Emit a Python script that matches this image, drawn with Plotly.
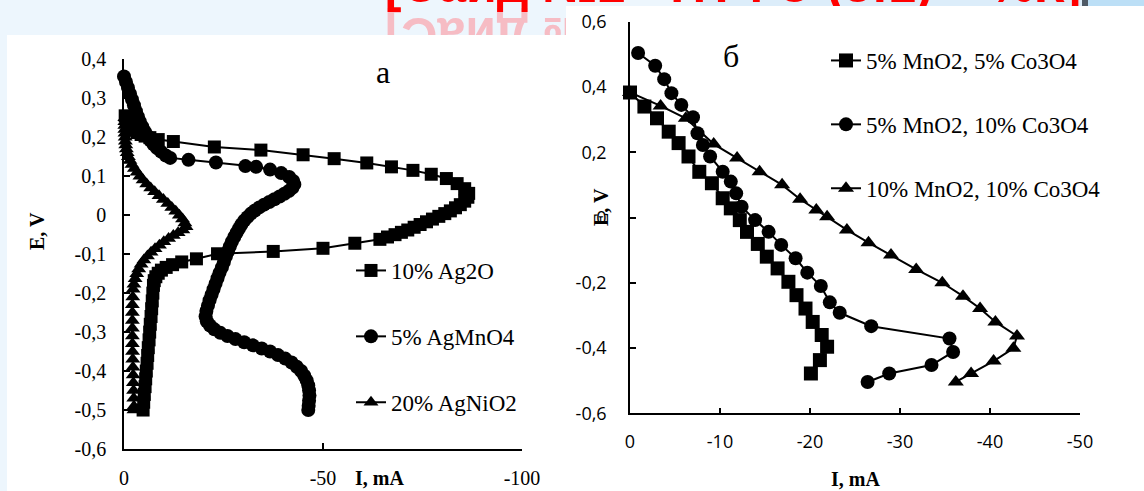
import plotly.graph_objects as go

W, H = 1144, 491

# ---------------- panel "a" data (I, mA ; E, V) ----------------
ag2o_I = [-0.3, -0.6, -1.0, -1.6, -2.4, -3.3, -4.3, -5.3, -6.5, -8.6, -12.4, -22.7, -34.4, -45.0,
          -52.8, -61.0, -67.2, -72.6, -77.2, -81.0, -83.7, -85.6, -86.6, -86.4, -85.6, -84.5, -83.3,
          -82.0, -80.6, -79.1, -77.5, -76.0, -74.4, -72.9, -71.3, -69.7, -68.1, -66.2, -64.3, -58.0,
          -50.0, -37.5, -23.5, -18.2, -14.5, -12.2, -10.6, -9.4, -8.6, -8.0, -7.6, -7.4, -7.25, -7.1,
          -6.95, -6.8, -6.6, -6.45, -6.3, -6.1, -5.95, -5.8, -5.6, -5.45, -5.3, -5.1, -4.95, -4.8]
ag2o_E = [0.255, 0.245, 0.235, 0.226, 0.218, 0.212, 0.207, 0.203, 0.199, 0.194, 0.189, 0.175, 0.167, 0.155,
          0.145, 0.134, 0.124, 0.115, 0.105, 0.094, 0.081, 0.068, 0.056, 0.046, 0.036, 0.027, 0.019,
          0.011, 0.004, -0.003, -0.010, -0.017, -0.024, -0.031, -0.038, -0.044, -0.050, -0.056, -0.062, -0.072,
          -0.085, -0.093, -0.099, -0.112, -0.120, -0.127, -0.134, -0.141, -0.149, -0.158, -0.168, -0.180, -0.200, -0.220,
          -0.240, -0.260, -0.280, -0.300, -0.320, -0.340, -0.360, -0.380, -0.400, -0.420, -0.440, -0.460, -0.480, -0.500]

agmno4_I = [0.0, -0.5, -1.0, -1.5, -2.0, -2.5, -3.0, -3.5, -4.0, -4.6, -5.2, -5.9, -6.6, -7.4, -8.3, -9.3,
            -10.5, -11.6, -16.2, -23.1, -30.5, -33.2, -36.7, -39.5, -41.5, -42.5, -42.8, -42.3, -41.4,
            -40.3, -39.1, -37.8, -36.5, -35.2, -34.0, -32.9, -31.9, -31.0, -30.2, -29.5, -28.9, -28.3,
            -27.7, -27.1, -26.6, -26.1, -25.6, -25.1, -24.6, -24.0, -23.5, -23.0, -22.5, -22.0, -21.5,
            -21.1, -20.7, -20.5, -20.8, -21.6, -22.7, -24.2, -26.0, -28.0, -30.2, -32.4, -34.6, -36.7,
            -38.7, -40.5, -42.1, -43.4, -44.5, -45.3, -45.9, -46.3, -46.5, -46.6, -46.5, -46.4, -46.3]
agmno4_E = [0.356, 0.342, 0.327, 0.312, 0.297, 0.282, 0.267, 0.253, 0.240, 0.227, 0.215, 0.203, 0.192, 0.182, 0.172, 0.163,
            0.153, 0.147, 0.142, 0.135, 0.126, 0.124, 0.117, 0.108, 0.098, 0.088, 0.079, 0.070, 0.062,
            0.055, 0.048, 0.041, 0.034, 0.027, 0.020, 0.012, 0.004, -0.005, -0.014, -0.024, -0.034, -0.045,
            -0.056, -0.068, -0.080, -0.093, -0.106, -0.120, -0.134, -0.148, -0.162, -0.176, -0.190, -0.204, -0.218,
            -0.232, -0.246, -0.260, -0.272, -0.283, -0.293, -0.302, -0.310, -0.318, -0.326, -0.334, -0.342, -0.350,
            -0.359, -0.368, -0.378, -0.389, -0.400, -0.412, -0.424, -0.437, -0.450, -0.463, -0.476, -0.489, -0.500]

agnio2_I = [-0.2, -0.2, -0.2, -0.2, -0.25, -0.3, -0.35, -0.45, -0.6, -0.8, -1.1, -1.5, -2.0, -2.6, -3.3,
            -4.0, -4.8, -5.7, -6.7, -7.7, -8.8, -9.9, -11.0, -12.0, -13.0, -13.9, -14.7, -15.3, -15.6,
            -14.8, -13.6, -12.4, -11.2, -10.0, -8.9, -7.8, -6.8, -5.9, -5.0, -4.3, -3.7, -3.2, -2.8, -2.5,
            -2.3, -2.2, -2.1, -2.1, -2.1, -2.1, -2.1, -2.1, -2.15, -2.2, -2.25, -2.3, -2.35, -2.4, -2.45, -2.5, -2.5]
agnio2_E = [0.250, 0.240, 0.230, 0.220, 0.210, 0.200, 0.190, 0.180, 0.170, 0.160, 0.150, 0.140, 0.130, 0.120, 0.110,
            0.100, 0.090, 0.080, 0.070, 0.060, 0.050, 0.040, 0.030, 0.020, 0.010, 0.000, -0.010, -0.020, -0.030,
            -0.038, -0.045, -0.052, -0.060, -0.068, -0.077, -0.086, -0.095, -0.105, -0.115, -0.126, -0.138, -0.150, -0.163, -0.177,
            -0.190, -0.210, -0.230, -0.250, -0.270, -0.290, -0.310, -0.330, -0.350, -0.370, -0.390, -0.410, -0.430, -0.450, -0.470, -0.490, -0.500]

# ---------------- panel "б" data ----------------
mn5co5_I = [0.0, -1.6, -3.0, -4.3, -5.4, -6.5, -7.7, -9.1, -10.3, -11.2, -12.2, -13.0, -14.2, -15.2, -16.4,
            -17.6, -18.5, -19.5, -20.3, -21.3, -21.9, -21.1, -20.1]
mn5co5_E = [0.383, 0.340, 0.304, 0.263, 0.228, 0.187, 0.140, 0.105, 0.059, 0.028, -0.008, -0.044, -0.081, -0.120, -0.156,
            -0.197, -0.238, -0.279, -0.320, -0.360, -0.396, -0.437, -0.478]

mn5co10_I = [-0.9, -2.8, -3.8, -4.6, -5.7, -7.0, -7.5, -8.1, -8.9, -10.3, -11.2, -11.8, -12.4, -13.9, -15.4,
             -16.8, -18.4, -19.7, -21.2, -22.2, -23.3, -26.8, -35.5, -35.9, -33.5, -28.8, -26.4]
mn5co10_E = [0.504, 0.465, 0.424, 0.381, 0.345, 0.307, 0.258, 0.222, 0.187, 0.140, 0.110, 0.074, 0.033, -0.008, -0.044,
             -0.084, -0.125, -0.169, -0.210, -0.260, -0.292, -0.333, -0.371, -0.412, -0.452, -0.478, -0.504]

mn10co10_I = [0.0, -3.4, -6.2, -9.3, -11.9, -14.4, -16.9, -18.9, -20.7, -21.9, -24.1, -26.5, -29.0, -31.8,
              -34.7, -37.0, -38.9, -40.6, -43.0, -42.6, -40.4, -37.9, -36.2]
mn10co10_E = [0.383, 0.342, 0.304, 0.225, 0.182, 0.140, 0.100, 0.056, 0.023, 0.002, -0.038, -0.077, -0.115, -0.159,
              -0.200, -0.241, -0.279, -0.320, -0.363, -0.401, -0.440, -0.478, -0.504]

# ---------------- ticks ----------------
a_xtick_vals = [0, -50, -100]
a_xtick_text = ["0", "-50", "-100"]
a_ytick_vals = [0.4, 0.3, 0.2, 0.1, 0.0, -0.1, -0.2, -0.3, -0.4, -0.5, -0.6]
a_ytick_text = ["0,4", "0,3", "0,2", "0,1", "0", "-0,1", "-0,2", "-0,3", "-0,4", "-0,5", "-0,6"]
b_xtick_vals = [0, -10, -20, -30, -40, -50]
b_xtick_text = ["0", "-10", "-20", "-30", "-40", "-50"]
b_ytick_vals = [0.6, 0.4, 0.2, 0.0, -0.2, -0.4, -0.6]
b_ytick_text = ["0,6", "0,4", "0,2", "0", "-0,2", "-0,4", "-0,6"]

a_names = ["10% Ag2O", "5% AgMnO4", "20% AgNiO2"]
b_names = ["5% MnO2, 5% Co3O4", "5% MnO2, 10% Co3O4", "10% MnO2, 10% Co3O4"]

TITLE = "[Сайд №2 · ПТФЭ (5:1) + %К]"
TITLE_LEFT = "[Сайд №2"

SERIF = "Liberation Serif"
SANS = "Open Sans"


def px(x):
    return x / W


def py(y):
    return 1 - y / H


fig = go.Figure()

# ---------- slide title, clipped to the strips of slide left visible above the two chart pictures ----------
refl = TITLE_LEFT[::-1].replace("[", "]")
fig.add_trace(go.Bar(x=[505], y=[1], base=[34], width=[300], xaxis="x", yaxis="y",
                     marker=dict(color="rgba(0,0,0,0)", line=dict(width=0)),
                     text=[refl], textposition="inside", insidetextanchor="middle",
                     textangle=180, constraintext="none", cliponaxis=True,
                     textfont=dict(family="Liberation Sans", size=50, color="#f6bcc4", weight="bold"),
                     showlegend=False, hoverinfo="skip"))
for xa, ya in [("x", "y"), ("x2", "y2")]:
    fig.add_trace(go.Scatter(x=[733], y=[-11], mode="text", text=[TITLE], xaxis=xa, yaxis=ya,
                             textposition="middle center", cliponaxis=True,
                             textfont=dict(family="Liberation Sans", size=50, color="#ff0000", weight="bold"),
                             showlegend=False, hoverinfo="skip"))

# ---------- panel a ----------
sym_a = ["square", "circle", "triangle-up"]
size_a = [13, 14, 13]
for name, xs, ys, s, sz in zip(a_names, [ag2o_I, agmno4_I, agnio2_I], [ag2o_E, agmno4_E, agnio2_E], sym_a, size_a):
    fig.add_trace(go.Scatter(x=xs, y=ys, name=name, mode="lines+markers", xaxis="x3", yaxis="y3",
                             line=dict(color="black", width=2),
                             marker=dict(symbol=s, size=sz, color="black"),
                             cliponaxis=False, legend="legend", legendgroup=name))

# ---------- panel б ----------
sym_b = ["square", "circle", "triangle-up"]
size_b = [14, 14, 14]
for name, xs, ys, s, sz in zip(b_names, [mn5co5_I, mn5co10_I, mn10co10_I], [mn5co5_E, mn5co10_E, mn10co10_E], sym_b, size_b):
    fig.add_trace(go.Scatter(x=xs, y=ys, name=name, mode="lines+markers", xaxis="x4", yaxis="y4",
                             line=dict(color="black", width=2),
                             marker=dict(symbol=s, size=sz, color="black"),
                             cliponaxis=False, legend="legend2", legendgroup=name))

axis_common = dict(showline=True, linecolor="black", linewidth=1.5, ticks="inside", ticklen=6,
                   tickwidth=1.5, tickcolor="black", showgrid=False, zeroline=False, fixedrange=True)


def rect(x0, x1, y0, y1, color):
    return dict(type="rect", xref="paper", yref="paper", x0=px(x0), x1=px(x1), y0=py(y1), y1=py(y0),
                fillcolor=color, line=dict(width=0), layer="below")


shapes = [
    rect(700, 1082, 0, 35, "#dcedfa"),
    rect(1082, 1088, 0, 35, "#4f5a66"),
    rect(1088, 1144, 0, 35, "#bcdff6"),
    rect(7, 566, 35, 491, "white"),
    rect(566, 1144, 6, 491, "white"),
]


def label(text, x, y, size, angle=0):
    return dict(text=text, x=px(x), y=py(y), xref="paper", yref="paper", textangle=angle,
                xanchor="center", yanchor="middle", showarrow=False,
                font=dict(family=SERIF, size=size, color="black"))


ann = [
    label("<b>E, V</b>", 37, 231, 20, -90),
    label("<b>I, mA</b>", 379, 478, 20),
    label("a", 383, 72, 32),
    label("<b>E, V</b>", 601, 207, 20, -90),
    label("<b>I, mA</b>", 855, 479, 20),
    label("б", 731, 56, 32),
]

hidden = dict(visible=False, fixedrange=True)

fig.update_layout(
    width=W, height=H, margin=dict(l=0, r=0, t=0, b=0, pad=0, autoexpand=False),
    paper_bgcolor="#edf6fd", plot_bgcolor="rgba(0,0,0,0)",
    font=dict(family=SERIF, color="black"), barmode="overlay",
    xaxis=dict(domain=[0, px(566)], range=[0, 566], anchor="y", **hidden),
    yaxis=dict(domain=[py(35), 1], range=[35, 0], anchor="x", **hidden),
    xaxis2=dict(domain=[px(566), 1], range=[566, W], anchor="y2", **hidden),
    yaxis2=dict(domain=[py(6), 1], range=[6, 0], anchor="x2", **hidden),
    xaxis3=dict(domain=[px(124), px(522)], range=[0, -100], anchor="y3",
                tickvals=a_xtick_vals, ticktext=a_xtick_text, ticklabelstandoff=10,
                tickfont=dict(family=SERIF, size=20, color="black"), **axis_common),
    yaxis3=dict(domain=[py(449), py(59.3)], range=[-0.6, 0.4], anchor="x3",
                tickvals=a_ytick_vals, ticktext=a_ytick_text, ticklabelstandoff=12,
                tickfont=dict(family=SERIF, size=20, color="black"), **axis_common),
    xaxis4=dict(domain=[px(630), px(1080)], range=[0, -50], anchor="y4",
                tickvals=b_xtick_vals, ticktext=b_xtick_text, ticklabelstandoff=11,
                tickfont=dict(family=SANS, size=18, color="black"), **axis_common),
    yaxis4=dict(domain=[py(413.3), py(21.7)], range=[-0.6, 0.6], anchor="x4",
                tickvals=b_ytick_vals, ticktext=b_ytick_text, ticklabelstandoff=18,
                tickfont=dict(family=SANS, size=18, color="black"), **axis_common),
    legend=dict(x=px(351), y=py(249), xanchor="left", yanchor="top", bgcolor="rgba(0,0,0,0)",
                font=dict(family=SERIF, size=23, color="black"), tracegroupgap=33,
                itemsizing="trace"),
    legend2=dict(x=px(826), y=py(39), xanchor="left", yanchor="top", bgcolor="rgba(0,0,0,0)",
                 font=dict(family=SERIF, size=23, color="black"), tracegroupgap=31,
                 itemsizing="trace"),
    shapes=shapes, annotations=ann, showlegend=True,
)

fig.write_html("out.html")
